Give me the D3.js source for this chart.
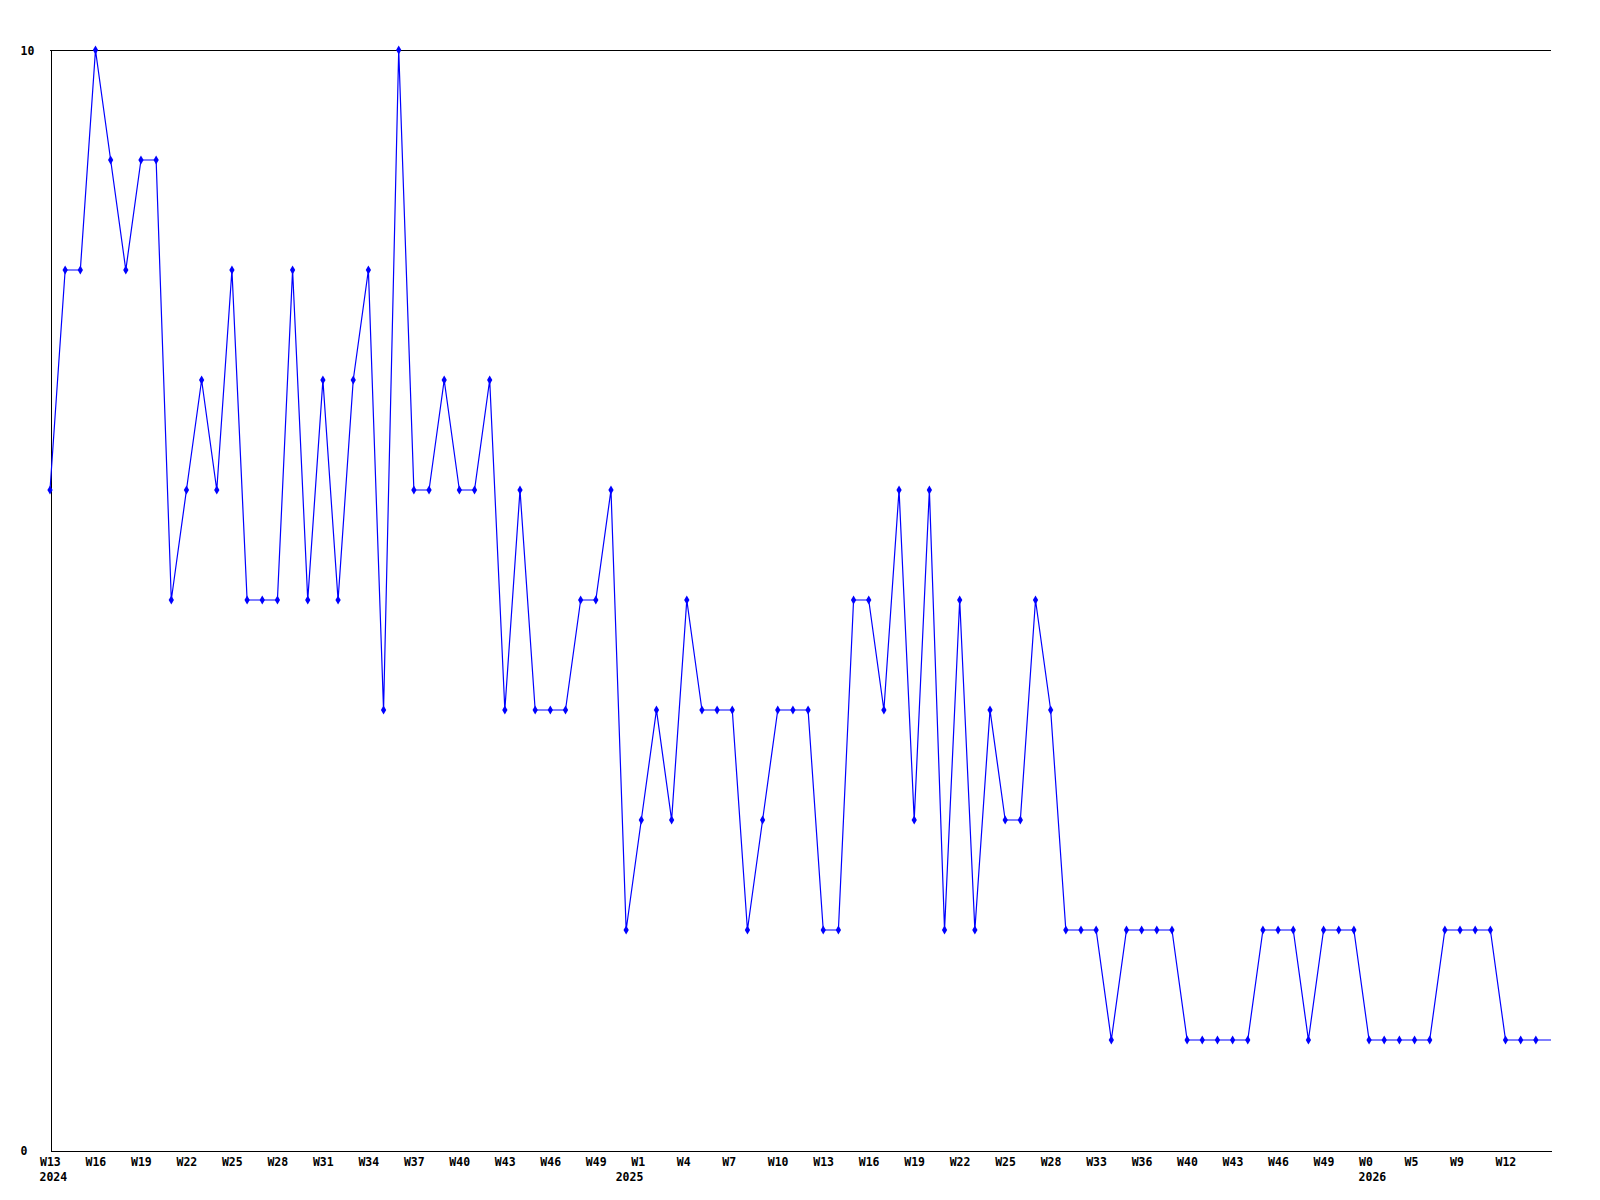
<!DOCTYPE html>
<html>
<head>
<meta charset="utf-8">
<script src="https://cdn.jsdelivr.net/npm/d3@7"></script>
<style>
	html, body { margin: 0; padding: 0; background: #fff; }
	svg text { font-family: "DejaVu Sans Mono", monospace; font-weight: bold; font-size: 11.5px; fill: #000; }
</style>
</head>
<body>
<svg id="chart"></svg>
<script>
// weekly values, starting at 2024 W13
var values = [
	6, 8, 8, 10, 9, 8, 9, 9, 5, 6,
	7, 6, 8, 5, 5, 5, 8, 5, 7, 5,
	7, 8, 4, 10, 6, 6, 7, 6, 6, 7,
	4, 6, 4, 4, 4, 5, 5, 6, 2, 3,
	4, 3, 5, 4, 4, 4, 2, 3, 4, 4,
	4, 2, 2, 5, 5, 4, 6, 3, 6, 2,
	5, 2, 4, 3, 3, 5, 4, 2, 2, 2,
	1, 2, 2, 2, 2, 1, 1, 1, 1, 1,
	2, 2, 2, 1, 2, 2, 2, 1, 1, 1,
	1, 1, 2, 2, 2, 2, 1, 1, 1, 1
];

// one label every third week
var weekLabels = [
	"W13", "W16", "W19", "W22", "W25", "W28", "W31", "W34", "W37", "W40", "W43", "W46", "W49",
	"W1", "W4", "W7", "W10", "W13", "W16", "W19", "W22", "W25", "W28", "W33", "W36", "W40", "W43", "W46", "W49",
	"W0", "W5", "W9", "W12"
];
var yearLabels = ["2024", "2025", "2026"];
var yearIndexes = [0, 38, 87];
var yTicks = [0, 10];

var width = 1600, height = 1200;
var margin = {top: 50, right: 49, bottom: 50, left: 50};

var svg = d3.select("#chart")
	.attr("width", width)
	.attr("height", height);

var x = d3.scaleLinear()
	.domain([0, values.length - 1])
	.range([margin.left, width - margin.right]);

var y = d3.scaleLinear()
	.domain([0, 10])
	.range([height - margin.bottom, margin.top]);

// labels are placed left aligned, a bit before their week
var labelShift = -10.5;

// the line at the maximum
svg.append("line")
	.attr("x1", x.range()[0])
	.attr("x2", x.range()[1])
	.attr("y1", y(10) + 0.5)
	.attr("y2", y(10) + 0.5)
	.attr("stroke", "#000")
	.attr("shape-rendering", "crispEdges");

var xAxis = d3.axisBottom(x)
	.tickValues(d3.range(0, values.length, 3))
	.tickFormat(function(d, i) { return weekLabels[i]; })
	.tickSize(0)
	.tickSizeOuter(0);

var gx = svg.append("g")
	.attr("transform", "translate(0," + (y(0) + 0.5) + ")")
	.call(xAxis);
gx.select(".domain").attr("stroke", "#000").attr("shape-rendering", "crispEdges");
gx.selectAll("text")
	.attr("font-family", null)
	.attr("font-size", null)
	.attr("fill", null)
	.attr("text-anchor", "start")
	.attr("x", labelShift)
	.attr("y", 15)
	.attr("dy", null);

// years underneath the weeks
svg.append("g").selectAll("text")
	.data(yearLabels)
	.enter().append("text")
	.attr("x", function(d, i) { return x(yearIndexes[i]) + labelShift; })
	.attr("y", y(0) + 31)
	.text(function(d) { return d; });

var yAxis = d3.axisLeft(y)
	.tickValues(yTicks)
	.tickSize(0)
	.tickSizeOuter(0);

var gy = svg.append("g")
	.attr("transform", "translate(" + (x(0) + 0.5) + ",0)")
	.call(yAxis);
gy.select(".domain").attr("stroke", "#000").attr("shape-rendering", "crispEdges");
gy.selectAll("text")
	.attr("font-family", null)
	.attr("font-size", null)
	.attr("fill", null)
	.attr("text-anchor", "start")
	.attr("x", 20 - x(0))
	.attr("dy", "0.35em");

var line = d3.line()
	.x(function(d, i) { return x(i); })
	.y(function(d) { return y(d); });

svg.append("path")
	.datum(values)
	.attr("fill", "none")
	.attr("stroke", "#0000ff")
	.attr("stroke-width", 1.2)
	.attr("d", line);

// small markers, the last (running) week has none
var symbol = d3.symbol().type(d3.symbolDiamond).size(24);
svg.append("g").selectAll("path")
	.data(values.slice(0, values.length - 1))
	.enter().append("path")
	.attr("fill", "#0000ff")
	.attr("transform", function(d, i) { return "translate(" + x(i) + "," + y(d) + ")"; })
	.attr("d", symbol);
</script>
</body>
</html>
